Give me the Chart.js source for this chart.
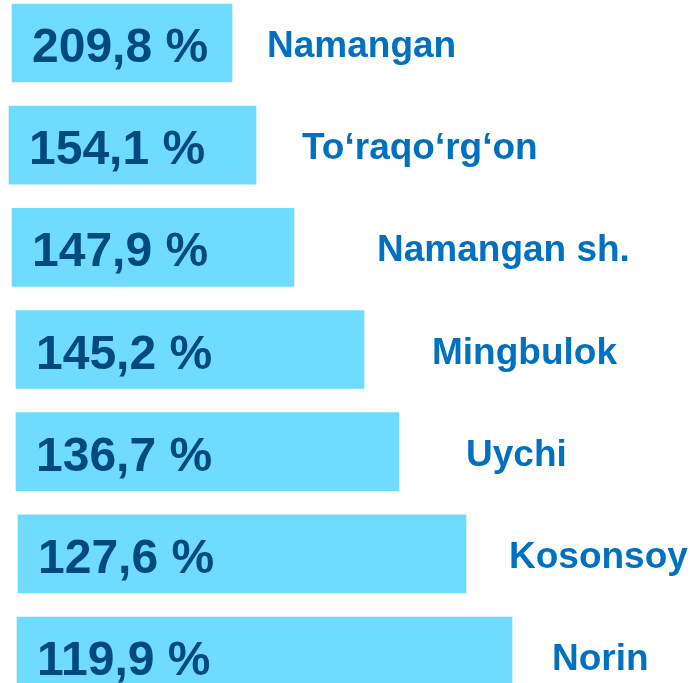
<!DOCTYPE html>
<html>
<head>
<meta charset="utf-8">
<script src="https://cdn.jsdelivr.net/npm/chart.js@4/dist/chart.umd.min.js"></script>
<style>
  html, body { margin: 0; padding: 0; background: #ffffff; }
  canvas { display: block; }
</style>
</head>
<body>
<canvas id="regions-chart" width="690" height="683"></canvas>
<script>
// Regions and their growth rates (%)
const regions = ['Namangan', 'To\u2018raqo\u2018rg\u2018on', 'Namangan sh.', 'Mingbulok', 'Uychi', 'Kosonsoy', 'Norin'];
const values = [209.8, 154.1, 147.9, 145.2, 136.7, 127.6, 119.9];
// bar extents as drawn in the infographic (they do not follow the values)
const barStart = [12, 9, 12, 16, 16, 18, 17];
const barEnd = [232, 256, 294, 364, 399, 466, 512];

document.addEventListener('DOMContentLoaded', function() {
  const ctx = document.getElementById('regions-chart').getContext('2d');

  // gap between bar end and region name, per row
  const nameGap = [35, 46, 83, 68, 67, 43, 40];

  const labelPlugin = {
    id: 'rowLabels',
    afterDatasetsDraw(chart) {
      const c = chart.ctx;
      const meta = chart.getDatasetMeta(0);
      c.save();
      c.textBaseline = 'alphabetic';
      c.textAlign = 'left';
      meta.data.forEach(function(bar, i) {
        const left = Math.min(bar.x, bar.base);
        const right = Math.max(bar.x, bar.base);
        // value inside the bar
        c.font = 'bold 48px "Liberation Sans", Arial, sans-serif';
        c.fillStyle = '#004a80';
        c.fillText(values[i].toFixed(1).replace('.', ',') + ' %', left + 20, bar.y + 19);
        // region name to the right
        c.font = 'bold 37px "Liberation Sans", Arial, sans-serif';
        c.fillStyle = '#0070c0';
        c.fillText(regions[i], right + nameGap[i], bar.y + 14);
      });
      c.restore();
    }
  };

  new Chart(ctx, {
    type: 'bar',
    data: {
      datasets: [{
        data: regions.map(function(r, i) { return { x: [barStart[i], barEnd[i]], y: i + 1 }; }),
        backgroundColor: '#6fdbff',
        borderWidth: 0,
        barThickness: 78
      }]
    },
    options: {
      indexAxis: 'y',
      responsive: false,
      animation: false,
      devicePixelRatio: 1,
      layout: { padding: 0 },
      plugins: {
        legend: { display: false },
        tooltip: { enabled: false }
      },
      scales: {
        x: { type: 'linear', min: 0, max: 690, display: false },
        y: { type: 'linear', min: 0.579, max: 7.264, reverse: true, offset: false, display: false }
      }
    },
    plugins: [labelPlugin]
  });
});
</script>
</body>
</html>
